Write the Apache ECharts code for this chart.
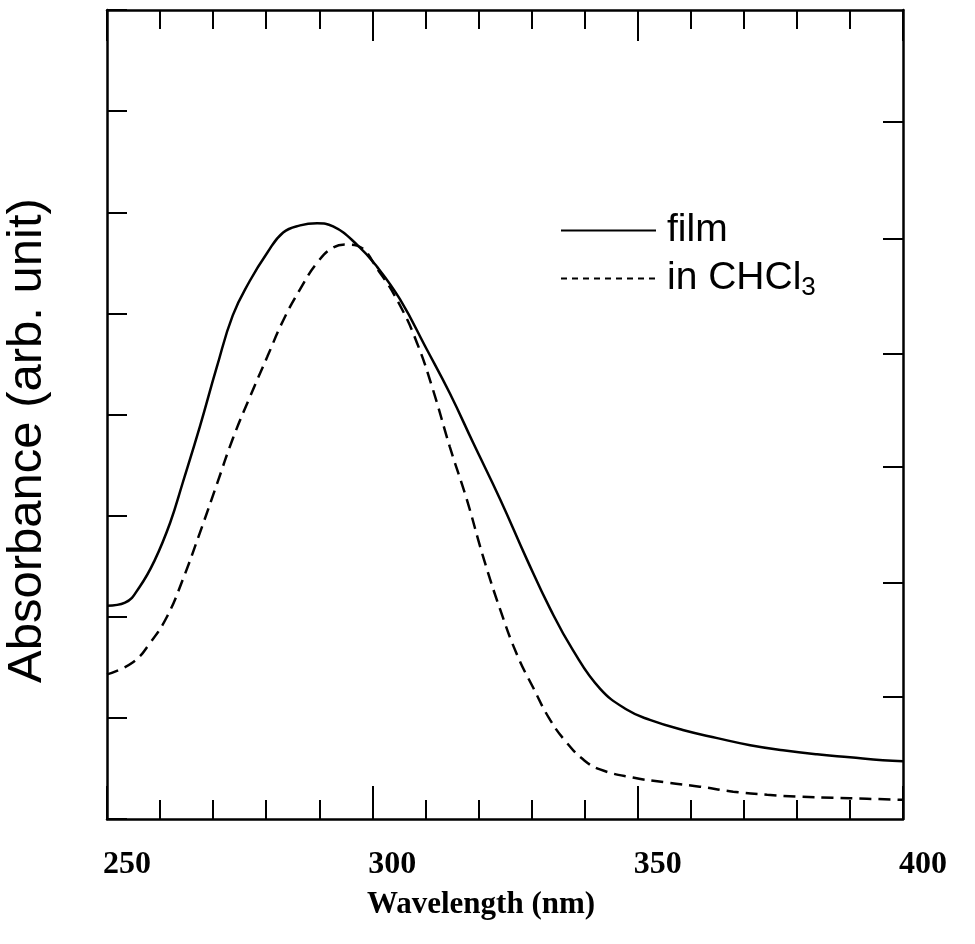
<!DOCTYPE html>
<html>
<head>
<meta charset="utf-8">
<script src="https://cdn.jsdelivr.net/npm/echarts@6/dist/echarts.min.js"></script>
<style>
  html, body { margin: 0; padding: 0; background: #fff; }
  #main { width: 975px; height: 944px; }
</style>
</head>
<body>
<div id="main"></div>
<script>
// wavelength (nm) / absorbance (arb. unit)
var filmX = [250, 253.4, 256.2, 259, 261.9, 264.3, 267.5, 270.7, 273.7, 276.9, 280.2, 283.2, 286.4, 289.6, 292.6,
    297.1, 300.9, 305.2, 310.3, 314.6, 319, 324.1, 329.1, 333.5, 337.8, 342.9, 348, 352.3, 358.5, 365,
    371.2, 377.4, 383.8, 390, 396.2, 400];
var filmY = [2.11, 2.14, 2.30, 2.56, 2.93, 3.33, 3.88, 4.47, 4.98, 5.32, 5.60, 5.80, 5.87, 5.89, 5.86,
    5.68, 5.46, 5.14, 4.64, 4.21, 3.72, 3.16, 2.57, 2.08, 1.67, 1.29, 1.08, 0.98, 0.88, 0.80,
    0.73, 0.68, 0.64, 0.61, 0.58, 0.57];

var solX = [250, 254.9, 258.1, 261.3, 264.3, 267.5, 270.7, 273.7, 276.9, 280.2, 283.2, 286.4, 289.6, 292.6, 295.2,
    297.1, 301.2, 305.2, 308.4, 311.4, 314.6, 317.8, 320.9, 324.1, 327.3, 330.3, 333.5, 336.7, 339.7, 342.9,
    349.1, 355.5, 361.7, 368, 374.4, 380.6, 386.8, 393.2, 400];
var solY = [1.43, 1.55, 1.74, 2.00, 2.37, 2.83, 3.31, 3.76, 4.17, 4.57, 4.93, 5.24, 5.50, 5.65, 5.68,
    5.67, 5.42, 5.08, 4.71, 4.25, 3.68, 3.16, 2.59, 2.07, 1.62, 1.30, 0.98, 0.75, 0.59, 0.49,
    0.41, 0.36, 0.32, 0.27, 0.24, 0.22, 0.21, 0.20, 0.19];

var xTickLabels = [250, 300, 350, 400];
var rightTicks = [1.21, 2.34, 3.48, 4.60, 5.74, 6.89];

function pairs(xs, ys) {
    return xs.map(function (x, i) { return [x, ys[i]]; });
}

var myChart = echarts.init(document.getElementById('main'));
var axisLine = { onZero: false, lineStyle: { color: '#000', width: 2.5 } };
var tickStyle = { color: '#000', width: 2 };

option = {
    backgroundColor: '#fff',
    animation: false,
    grid: { left: 107, right: 72, top: 10, bottom: 125, outerBoundsMode: 'none' },
    legend: {
        left: 555,
        top: 206,
        orient: 'vertical',
        selectedMode: false,
        itemWidth: 95,
        itemHeight: 14,
        itemGap: 9,
        itemStyle: { opacity: 0, borderWidth: 0 },
        data: [
            { name: 'film' },
            { name: 'in CHCl3', lineStyle: { type: [6, 5], width: 2 } }
        ],
        formatter: function (name) {
            return name === 'in CHCl3' ? 'in CHCl{s|3}' : name;
        },
        textStyle: {
            fontFamily: 'Liberation Sans',
            fontSize: 39,
            color: '#000',
            padding: [0, 0, 0, 6],
            rich: {
                s: { fontFamily: 'Liberation Sans', fontSize: 26, color: '#000', padding: [18, 0, 0, 0] }
            }
        }
    },
    xAxis: [
        {
            type: 'value',
            min: 250,
            max: 400,
            interval: 50,
            name: 'Wavelength (nm)',
            nameLocation: 'middle',
            nameGap: 70,
            nameTextStyle: {
                fontFamily: 'Liberation Serif', fontWeight: 'bold', fontSize: 31, color: '#000',
                padding: [0, 48, 0, 0]
            },
            axisLine: axisLine,
            axisTick: { inside: true, length: 33, lineStyle: tickStyle },
            minorTick: { show: true, splitNumber: 5, length: 19, lineStyle: tickStyle },
            axisLabel: {
                margin: 30,
                fontFamily: 'Liberation Serif', fontWeight: 'bold', fontSize: 32, color: '#000',
                padding: [0, 0, 0, 40],
                customValues: xTickLabels
            },
            splitLine: { show: false }
        },
        {
            type: 'value',
            position: 'top',
            min: 250,
            max: 400,
            interval: 50,
            axisLine: axisLine,
            axisTick: { inside: true, length: 31, lineStyle: tickStyle },
            minorTick: { show: true, splitNumber: 5, length: 19, lineStyle: tickStyle },
            axisLabel: { show: false },
            splitLine: { show: false }
        }
    ],
    yAxis: [
        {
            type: 'value',
            min: 0,
            max: 8,
            interval: 1,
            name: 'Absorbance (arb. unit)',
            nameLocation: 'middle',
            nameGap: 55,
            nameTextStyle: {
                fontFamily: 'Liberation Sans', fontSize: 49, color: '#000',
                padding: [0, 52, 0, 0]
            },
            axisLine: axisLine,
            axisTick: { inside: true, length: 20, lineStyle: tickStyle },
            axisLabel: { show: false },
            splitLine: { show: false }
        },
        {
            type: 'value',
            position: 'right',
            min: 0,
            max: 8,
            axisLine: axisLine,
            axisTick: { inside: true, length: 20, customValues: rightTicks, lineStyle: tickStyle },
            axisLabel: { show: false },
            splitLine: { show: false }
        }
    ],
    series: [
        {
            name: 'film',
            type: 'line',
            smooth: 0.45,
            showSymbol: false,
            symbol: 'none',
            lineStyle: { color: '#000', width: 2.5 },
            itemStyle: { color: '#000' },
            data: pairs(filmX, filmY)
        },
        {
            name: 'in CHCl3',
            type: 'line',
            smooth: 0.45,
            showSymbol: false,
            symbol: 'none',
            lineStyle: { color: '#000', width: 2.5, type: [12, 7] },
            itemStyle: { color: '#000' },
            data: pairs(solX, solY)
        }
    ]
};
myChart.setOption(option);
</script>
</body>
</html>
